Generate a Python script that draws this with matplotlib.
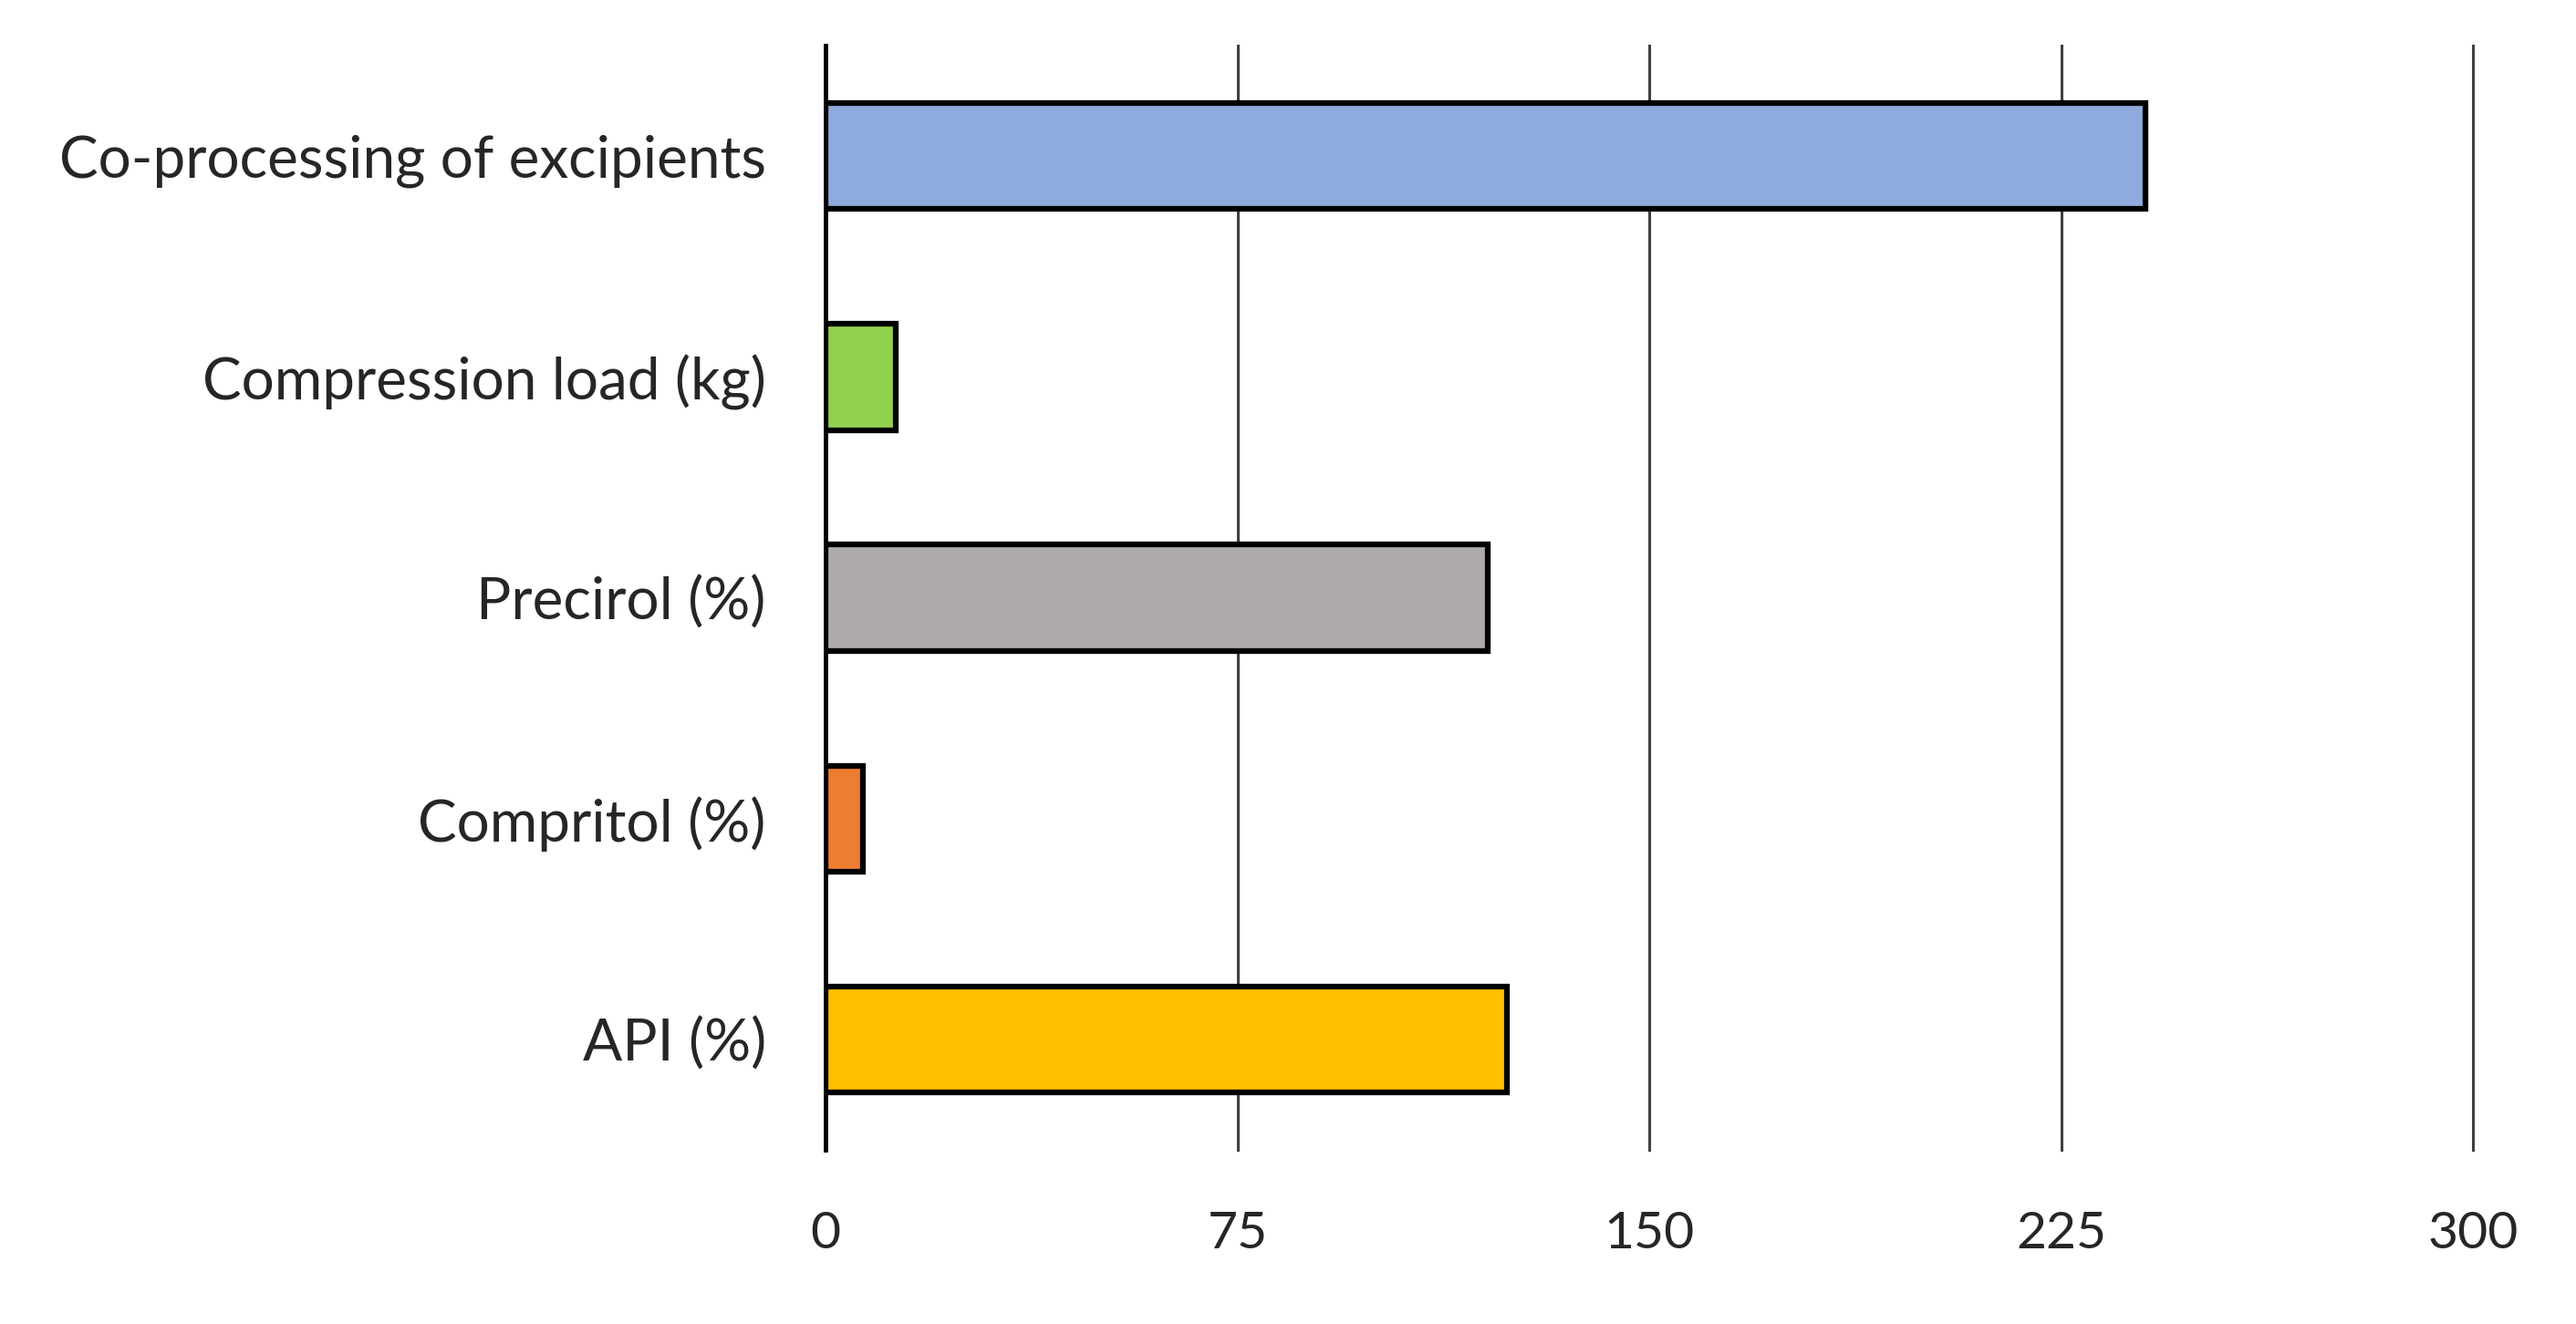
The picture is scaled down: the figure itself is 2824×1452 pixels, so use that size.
import matplotlib
matplotlib.use('Agg')
from matplotlib import pyplot as plt

# factors listed bottom to top, as barh draws them
factors = ['API (%)', 'Compritol (%)', 'Precirol (%)',
           'Compression load (kg)', 'Co-processing of excipients']
effects = [124.0, 6.8, 120.6, 12.7, 240.4]
colors = ['#FFC000', '#ED7D31', '#AEAAAA', '#92D050', '#8FAADC']
xticks = [0, 75, 150, 225, 300]

plt.rcParams['font.family'] = ['Lato', 'DejaVu Sans']

fig = plt.figure(figsize=(28.24, 14.52), dpi=100)
ax = fig.add_axes([0.3205, 0.1315, 0.6395, 0.834])

ax.barh(range(len(factors)), effects, height=0.48, color=colors,
        edgecolor='black', linewidth=4.5, zorder=3)

ax.set_xlim(0, 300)
ax.set_ylim(-0.5, len(factors) - 0.5)
ax.set_xticks(xticks)
ax.set_yticks(range(len(factors)))
ax.set_yticklabels(factors)

ax.grid(axis='x', color='#404040', linewidth=2.2, zorder=0)
for gl in ax.get_xgridlines():
    gl.set_clip_on(False)
ax.axvline(0, color='black', linewidth=3.5, zorder=4, clip_on=False)
for s in ax.spines.values():
    s.set_visible(False)

ax.tick_params(axis='x', length=0, pad=48, labelsize=41, labelcolor='#262626')
ax.tick_params(axis='y', length=0, pad=47, labelsize=46, labelcolor='#262626')

fig.savefig('out.png', dpi=100)
